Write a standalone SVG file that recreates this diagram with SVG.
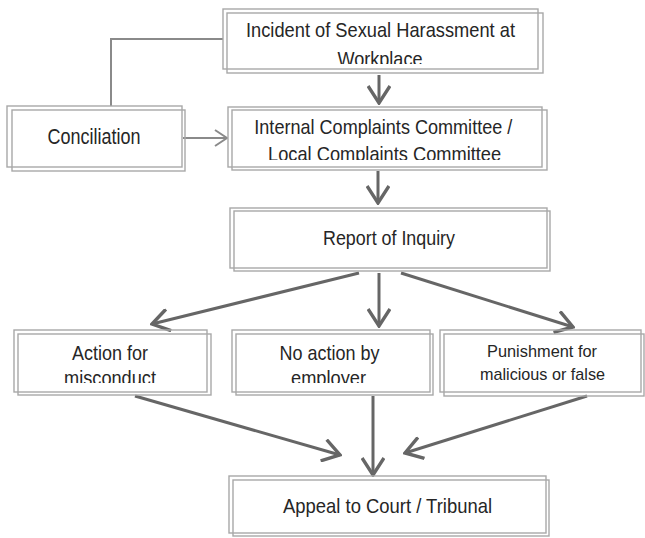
<svg xmlns="http://www.w3.org/2000/svg" width="645" height="538" viewBox="0 0 645 538">
  <style>
    .frame { fill: none; stroke: #a8a8a8; stroke-width: 1.4; }
    .t { font-family: "Liberation Sans", Arial, sans-serif; font-size: 21px; fill: #262626; text-anchor: middle; }
    .tl { font-size: 22px; }
    .ts { font-size: 17px; }
    .thick { fill: none; stroke: #666; stroke-width: 3; }
    .thin { fill: none; stroke: #8a8a8a; stroke-width: 2; }
  </style>
  <defs>
    <marker id="head" viewBox="0 0 20 24" refX="18" refY="12" markerWidth="20" markerHeight="24" markerUnits="userSpaceOnUse" orient="auto">
      <path d="M1,1 L18,12 L1,23" fill="none" stroke="#666" stroke-width="3.4"/>
    </marker>
    <marker id="headThin" viewBox="0 0 14 18" refX="13" refY="9" markerWidth="14" markerHeight="18" markerUnits="userSpaceOnUse" orient="auto">
      <path d="M1,1 L13,9 L1,17" fill="none" stroke="#8a8a8a" stroke-width="2"/>
    </marker>
    <clipPath id="clipTop"><rect x="0" y="0" width="645" height="64"/></clipPath>
    <clipPath id="clipIcc"><rect x="0" y="0" width="645" height="160"/></clipPath>
    <clipPath id="clipRow"><rect x="0" y="0" width="645" height="383"/></clipPath>
  </defs>

  <g id="connectors">
    <polyline class="thin" points="223,39 111,39 111,106"/>
    <line class="thin" x1="183" y1="138" x2="227" y2="138" marker-end="url(#headThin)"/>
    <line class="thick" x1="379" y1="75" x2="379" y2="103" marker-end="url(#head)"/>
    <line class="thick" x1="378" y1="171" x2="378" y2="203" marker-end="url(#head)"/>
    <line class="thick" x1="359" y1="273" x2="152" y2="324" marker-end="url(#head)"/>
    <line class="thick" x1="379" y1="273" x2="379" y2="326" marker-end="url(#head)"/>
    <line class="thick" x1="401" y1="273" x2="573" y2="327" marker-end="url(#head)"/>
    <line class="thick" x1="135" y1="396" x2="340" y2="455" marker-end="url(#head)"/>
    <line class="thick" x1="373" y1="396" x2="373" y2="475" marker-end="url(#head)"/>
    <line class="thick" x1="587" y1="396" x2="405" y2="453" marker-end="url(#head)"/>
  </g>

  <g id="incident">
    <rect class="frame" x="223" y="9" width="315" height="60"/>
    <rect class="frame" x="227" y="13" width="316" height="60"/>
    <text class="t" x="380.5" y="37" textLength="269" lengthAdjust="spacingAndGlyphs">Incident of Sexual Harassment at</text>
    <text class="t" x="380" y="66" textLength="85" lengthAdjust="spacingAndGlyphs" clip-path="url(#clipTop)">Workplace</text>
  </g>

  <g id="conciliation">
    <rect class="frame" x="7" y="106" width="175" height="61"/>
    <rect class="frame" x="12" y="110" width="173" height="61"/>
    <text class="t tl" x="94" y="144" textLength="93" lengthAdjust="spacingAndGlyphs">Conciliation</text>
  </g>

  <g id="committee">
    <rect class="frame" x="228" y="107" width="314" height="60"/>
    <rect class="frame" x="232" y="110" width="315" height="60"/>
    <text class="t" x="383.3" y="134" textLength="258" lengthAdjust="spacingAndGlyphs">Internal Complaints Committee /</text>
    <text class="t" x="384.6" y="161" textLength="233" lengthAdjust="spacingAndGlyphs" clip-path="url(#clipIcc)">Local Complaints Committee</text>
  </g>

  <g id="report">
    <rect class="frame" x="230" y="208" width="317" height="60"/>
    <rect class="frame" x="234" y="211" width="316" height="60"/>
    <text class="t" x="389" y="245" textLength="132" lengthAdjust="spacingAndGlyphs">Report of Inquiry</text>
  </g>

  <g id="action">
    <rect class="frame" x="14" y="330" width="193" height="62"/>
    <rect class="frame" x="18" y="334" width="193" height="61"/>
    <text class="t" x="110" y="360" textLength="76" lengthAdjust="spacingAndGlyphs">Action for</text>
    <text class="t" x="110" y="385" textLength="92" lengthAdjust="spacingAndGlyphs" clip-path="url(#clipRow)">misconduct</text>
  </g>

  <g id="noaction">
    <rect class="frame" x="232" y="330" width="198" height="62"/>
    <rect class="frame" x="236" y="334" width="197" height="61"/>
    <text class="t" x="329.6" y="360" textLength="100" lengthAdjust="spacingAndGlyphs">No action by</text>
    <text class="t" x="328.5" y="385" textLength="75" lengthAdjust="spacingAndGlyphs" clip-path="url(#clipRow)">employer</text>
  </g>

  <g id="punishment">
    <rect class="frame" x="440" y="330" width="201" height="62"/>
    <rect class="frame" x="444" y="334" width="200" height="62"/>
    <text class="t ts" x="542" y="357" textLength="110" lengthAdjust="spacingAndGlyphs">Punishment for</text>
    <text class="t ts" x="542.5" y="380" textLength="125" lengthAdjust="spacingAndGlyphs">malicious or false</text>
  </g>

  <g id="appeal">
    <rect class="frame" x="229" y="476" width="317" height="57"/>
    <rect class="frame" x="233" y="480" width="316" height="56"/>
    <text class="t" x="387.5" y="513" textLength="209" lengthAdjust="spacingAndGlyphs">Appeal to Court / Tribunal</text>
  </g>
</svg>
